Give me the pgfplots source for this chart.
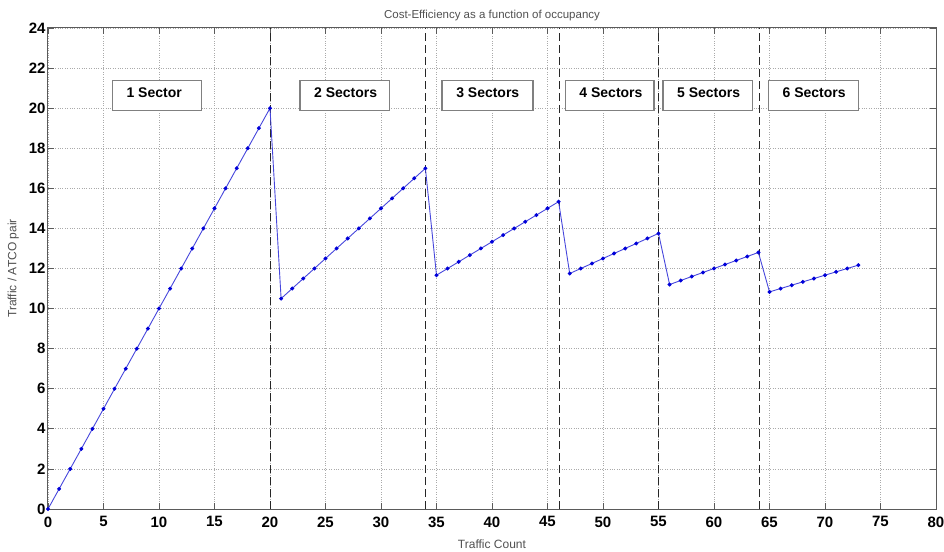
\documentclass[border=0pt]{standalone}
\usepackage{pgfplots}
\pgfplotsset{compat=1.18}
\usepackage{fontspec}
\setmainfont{Liberation Sans}
\definecolor{lineblue}{RGB}{70,70,220}
\definecolor{axgray}{RGB}{90,90,90}
\definecolor{gridgray}{RGB}{170,170,170}
\definecolor{labgray}{RGB}{80,80,80}
\newcommand{\secbox}[3]{%
  \fill[white] (axis cs:#1,19.9) rectangle (axis cs:#2,21.4);
  \draw[gray, line width=1.2pt] (axis cs:#1,19.9) rectangle (axis cs:#2,21.4);
  \node[anchor=west, font=\fontsize{14}{14}\selectfont\bfseries, inner sep=0pt] at (axis cs:#1,20.75) {\hspace{14pt}#3};
}
\begin{document}
\begin{tikzpicture}
\begin{axis}[
  at={(0,0)}, anchor=south west,
  scale only axis,
  width=888pt, height=481pt,
  xmin=0, xmax=80, ymin=0, ymax=24,
  xtick={0,5,...,80}, ytick={0,2,...,24},
  tick align=inside,
  major tick length=6pt,
  axis line style={axgray, line width=1pt},
  every tick/.style={axgray, line width=0.8pt},
  grid=major,
  major grid style={gridgray, dotted, line width=0.8pt},
  ticklabel style={font=\fontsize{15}{15}\selectfont\bfseries, text=black},
  /pgf/number format/assume math mode=true,
  xticklabel style={yshift=-4pt},
  yticklabel style={xshift=1pt},
  title={Cost-Efficiency as a function of occupancy},
  title style={font=\fontsize{11.5}{12}\selectfont, text=labgray, yshift=-2pt},
  xlabel={Traffic Count},
  ylabel={Traffic / ATCO pair},
  xlabel style={font=\fontsize{12}{12}\selectfont, text=labgray, yshift=-6pt},
  ylabel style={font=\fontsize{12}{12}\selectfont, text=labgray, yshift=3pt},
  clip=false,
]
% vertical dashed separators
\addplot[black!85, dash pattern=on 8pt off 4pt, line width=0.9pt, forget plot] coordinates {(20,0) (20,24)};
\addplot[black!85, dash pattern=on 8pt off 4pt, line width=0.9pt, forget plot] coordinates {(34,0) (34,24)};
\addplot[black!85, dash pattern=on 8pt off 4pt, line width=0.9pt, forget plot] coordinates {(46.05,0) (46.05,24)};
\addplot[black!85, dash pattern=on 8pt off 4pt, line width=0.9pt, forget plot] coordinates {(55,0) (55,24)};
\addplot[black!85, dash pattern=on 8pt off 4pt, line width=0.9pt, forget plot] coordinates {(64.1,0) (64.1,24)};
% data
\addplot[lineblue, line width=0.9pt, mark=*, mark size=1.5pt, mark options={fill=blue!85!black, draw=blue!85!black}] coordinates {
(0,0) (1,1) (2,2) (3,3) (4,4) (5,5) (6,6) (7,7) (8,8) (9,9) (10,10)
(11,11) (12,12) (13,13) (14,14) (15,15) (16,16) (17,17) (18,18) (19,19) (20,20)
(21,10.5) (22,11) (23,11.5) (24,12) (25,12.5) (26,13) (27,13.5) (28,14) (29,14.5)
(30,15) (31,15.5) (32,16) (33,16.5) (34,17)
(35,11.667) (36,12) (37,12.333) (38,12.667) (39,13) (40,13.333) (41,13.667)
(42,14) (43,14.333) (44,14.667) (45,15) (46,15.333)
(47,11.75) (48,12) (49,12.25) (50,12.5) (51,12.75) (52,13) (53,13.25) (54,13.5) (55,13.75)
(56,11.2) (57,11.4) (58,11.6) (59,11.8) (60,12) (61,12.2) (62,12.4) (63,12.6) (64,12.8)
(65,10.833) (66,11) (67,11.167) (68,11.333) (69,11.5) (70,11.667) (71,11.833) (72,12) (73,12.167)
};
% boxes
\secbox{5.8}{13.8}{1 Sector}
\secbox{22.7}{30.8}{2 Sectors}
\secbox{35.5}{43.7}{3 Sectors}
\secbox{46.6}{54.6}{4 Sectors}
\secbox{55.4}{63.5}{5 Sectors}
\secbox{64.9}{73.0}{6 Sectors}
\end{axis}
\pgfresetboundingbox
\path (-48pt,-42pt) rectangle (896pt,509pt);
\end{tikzpicture}
\end{document}
